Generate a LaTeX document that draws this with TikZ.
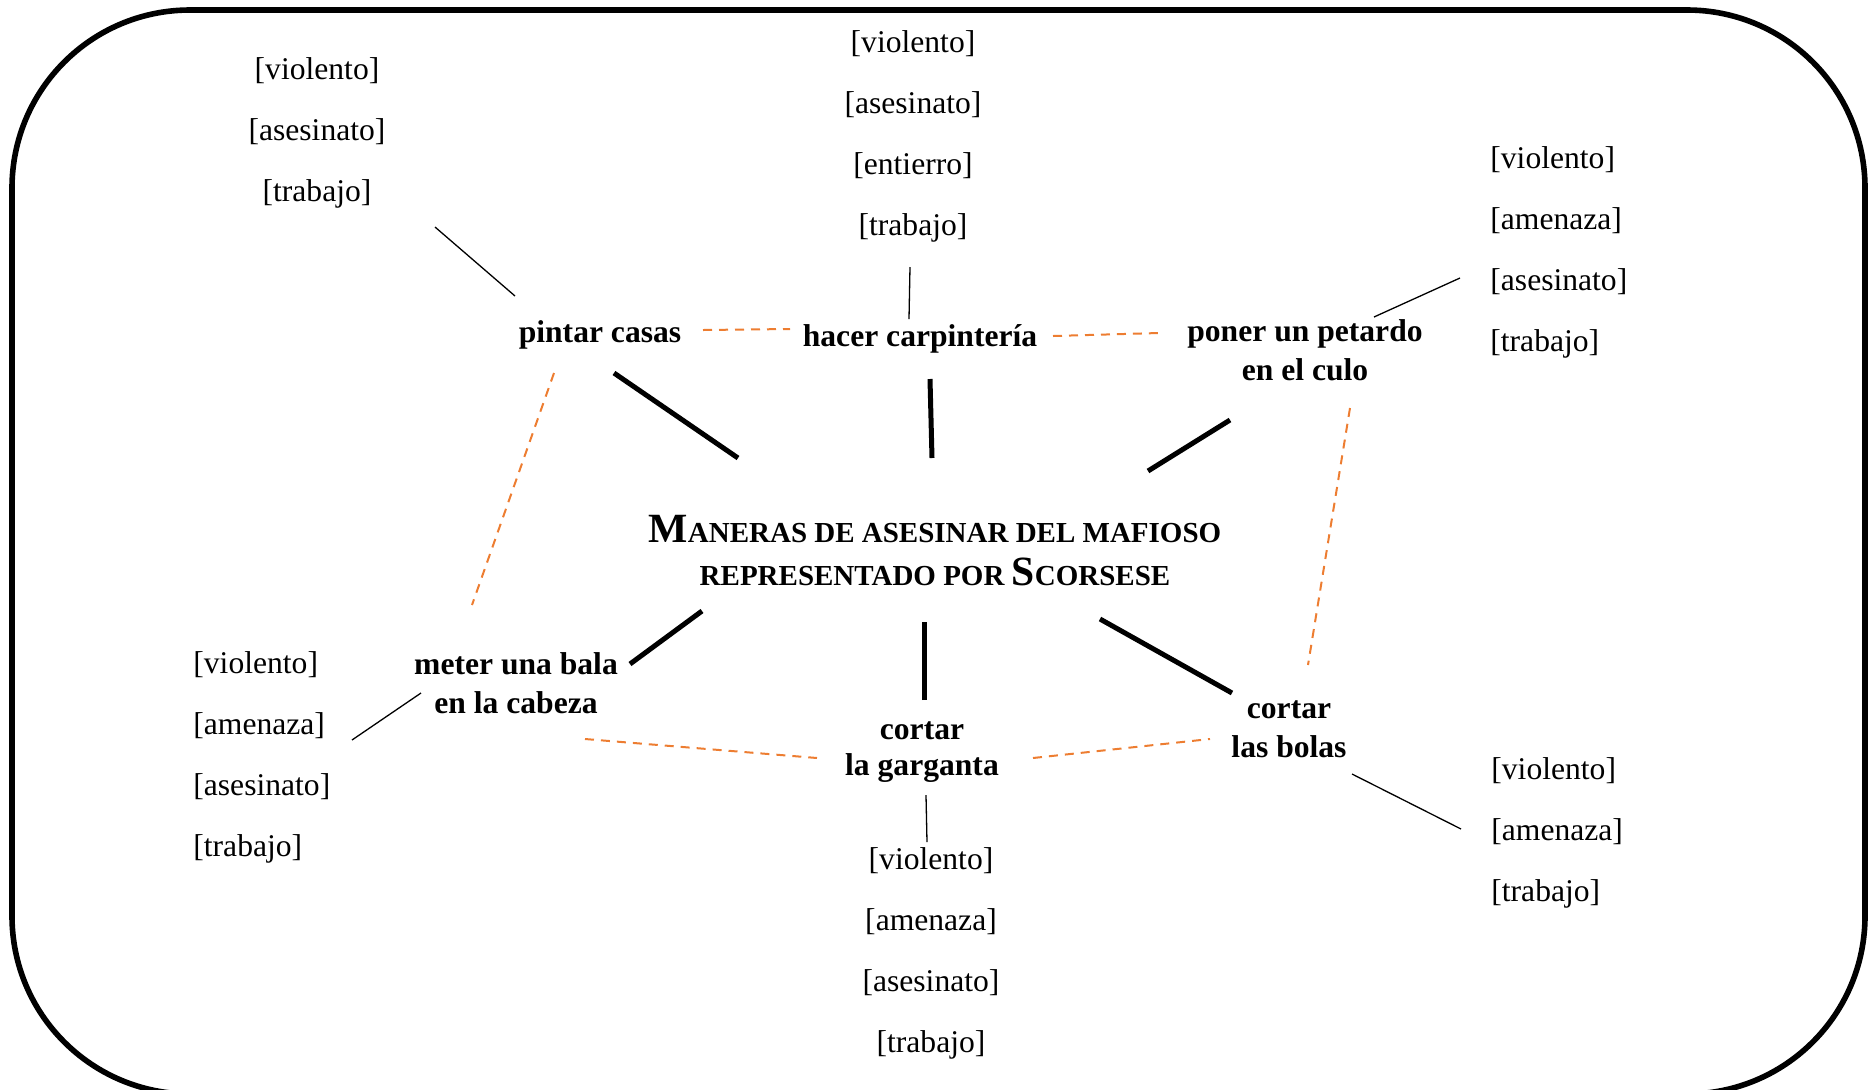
\documentclass[tikz,border=0pt]{standalone}
\usepackage{fontspec}
\setmainfont{Liberation Serif}
\definecolor{accentorange}{HTML}{ED7D31}
\newcommand\twolines[2]{\begin{tabular}[b]{@{}c@{}}#1\\#2\end{tabular}}
\newcommand\capbig[1]{{\fontsize{20.8}{21.5}\selectfont #1}}
\newcommand\capsmall[1]{{\fontsize{14.5}{21.5}\selectfont #1}}
\begin{document}
\begin{tikzpicture}[x=0.5pt,y=-0.5pt,
  tag/.style={font=\fontsize{15.8}{19}\selectfont, inner sep=0pt},
  idea/.style={font=\fontsize{15.8}{19.5}\selectfont\bfseries, inner sep=0pt, anchor=base},
  heading/.style={font=\bfseries\fontsize{20.8}{21.5}\selectfont, inner sep=0pt, anchor=base},
  strong/.style={line width=2.5pt},
  weak/.style={line width=0.65pt},
  related/.style={accentorange, line width=1pt, dash pattern=on 4.5pt off 3.5pt}]

\useasboundingbox (0,0) rectangle (1876,1089);
\draw[line width=2.8pt, rounded corners=89pt] (12,10) rectangle (1865,1094);

% central heading
\node[heading] (title) at (935,585) {\renewcommand\arraystretch{1}\fontsize{20.8}{21.5}\selectfont
  \twolines{\capbig{M}\capsmall{ANERAS DE ASESINAR DEL MAFIOSO}}{\capsmall{REPRESENTADO POR }\capbig{S}\capsmall{CORSESE}}};

% ways
\node[idea] (casas) at (600,342) {pintar casas};
\node[idea] (carp) at (920,346) {hacer carpintería};
\node[idea] (petardo) at (1305,380) {\twolines{poner un petardo}{en el culo}};
\node[idea] (bala) at (516,713) {\twolines{meter una bala}{en la cabeza}};
\node[idea] (garganta) at (922,775) {\fontsize{15.8}{18}\selectfont\twolines{cortar}{la garganta}};
\node[idea] (bolas) at (1289,757) {\twolines{cortar}{las bolas}};

% tags of pintar casas
\node[tag, anchor=base] (tl1) at (317,79) {[violento]};
\node[tag, anchor=base] (tl2) at (317,140) {[asesinato]};
\node[tag, anchor=base] (tl3) at (317,201) {[trabajo]};

% tags of hacer carpinteria
\node[tag, anchor=base] (tm1) at (913,52) {[violento]};
\node[tag, anchor=base] (tm2) at (913,113) {[asesinato]};
\node[tag, anchor=base] (tm3) at (913,174) {[entierro]};
\node[tag, anchor=base] (tm4) at (913,235) {[trabajo]};

% tags of poner un petardo
\node[tag, anchor=base west] (tr1) at (1490,168) {[violento]};
\node[tag, anchor=base west] (tr2) at (1490,229) {[amenaza]};
\node[tag, anchor=base west] (tr3) at (1490,290) {[asesinato]};
\node[tag, anchor=base west] (tr4) at (1490,351) {[trabajo]};

% tags of meter una bala
\node[tag, anchor=base west] (ml1) at (193,673) {[violento]};
\node[tag, anchor=base west] (ml2) at (193,734) {[amenaza]};
\node[tag, anchor=base west] (ml3) at (193,795) {[asesinato]};
\node[tag, anchor=base west] (ml4) at (193,856) {[trabajo]};

% tags of cortar la garganta
\node[tag, anchor=base] (bm1) at (931,869) {[violento]};
\node[tag, anchor=base] (bm2) at (931,930) {[amenaza]};
\node[tag, anchor=base] (bm3) at (931,991) {[asesinato]};
\node[tag, anchor=base] (bm4) at (931,1052) {[trabajo]};

% tags of cortar las bolas
\node[tag, anchor=base west] (br1) at (1491,779) {[violento]};
\node[tag, anchor=base west] (br2) at (1491,840) {[amenaza]};
\node[tag, anchor=base west] (br3) at (1491,901) {[trabajo]};

% connector ends
\coordinate (casas-c) at (614,373);   \coordinate (c-casas) at (738,458);
\coordinate (carp-c) at (930,379);    \coordinate (c-carp) at (932,458);
\coordinate (petardo-c) at (1230,420);\coordinate (c-petardo) at (1148,471);
\coordinate (bala-c) at (630,664);    \coordinate (c-bala) at (702,611);
\coordinate (garganta-c) at (924,700);\coordinate (c-garganta) at (924,622);
\coordinate (bolas-c) at (1232,693);  \coordinate (c-bolas) at (1100,619);

\coordinate (tl-e) at (435,227);      \coordinate (casas-t) at (515,296);
\coordinate (tm-e) at (910,267);      \coordinate (carp-t) at (909,319);
\coordinate (tr-e) at (1460,278);     \coordinate (petardo-t) at (1374,317);
\coordinate (ml-e) at (352,740);      \coordinate (bala-t) at (421,693);
\coordinate (bm-e) at (927,842);      \coordinate (garganta-t) at (926,795);
\coordinate (br-e) at (1461,829);     \coordinate (bolas-t) at (1352,774);

\coordinate (casas-r) at (703,330);   \coordinate (carp-l) at (790,329);
\coordinate (carp-r) at (1053,336);   \coordinate (petardo-l) at (1159,333);
\coordinate (casas-b) at (554,373);   \coordinate (bala-u) at (472,605);
\coordinate (petardo-b) at (1350,408);\coordinate (bolas-u) at (1308,665);
\coordinate (bala-r) at (585,739);    \coordinate (garganta-l) at (817,758);
\coordinate (garganta-r) at (1033,758);\coordinate (bolas-l) at (1210,739);

% ways to the heading
\draw[strong] (casas-c) -- (c-casas);
\draw[strong] (carp-c) -- (c-carp);
\draw[strong] (petardo-c) -- (c-petardo);
\draw[strong] (bala-c) -- (c-bala);
\draw[strong] (garganta-c) -- (c-garganta);
\draw[strong] (bolas-c) -- (c-bolas);

% tags to ways
\draw[weak] (tl-e) -- (casas-t);
\draw[weak] (tm-e) -- (carp-t);
\draw[weak] (tr-e) -- (petardo-t);
\draw[weak] (ml-e) -- (bala-t);
\draw[weak] (bm-e) -- (garganta-t);
\draw[weak] (br-e) -- (bolas-t);

% ring of related ways
\draw[related] (casas-r) -- (carp-l);
\draw[related] (carp-r) -- (petardo-l);
\draw[related] (casas-b) -- (bala-u);
\draw[related] (petardo-b) -- (bolas-u);
\draw[related] (bala-r) -- (garganta-l);
\draw[related] (garganta-r) -- (bolas-l);
\end{tikzpicture}
\end{document}
